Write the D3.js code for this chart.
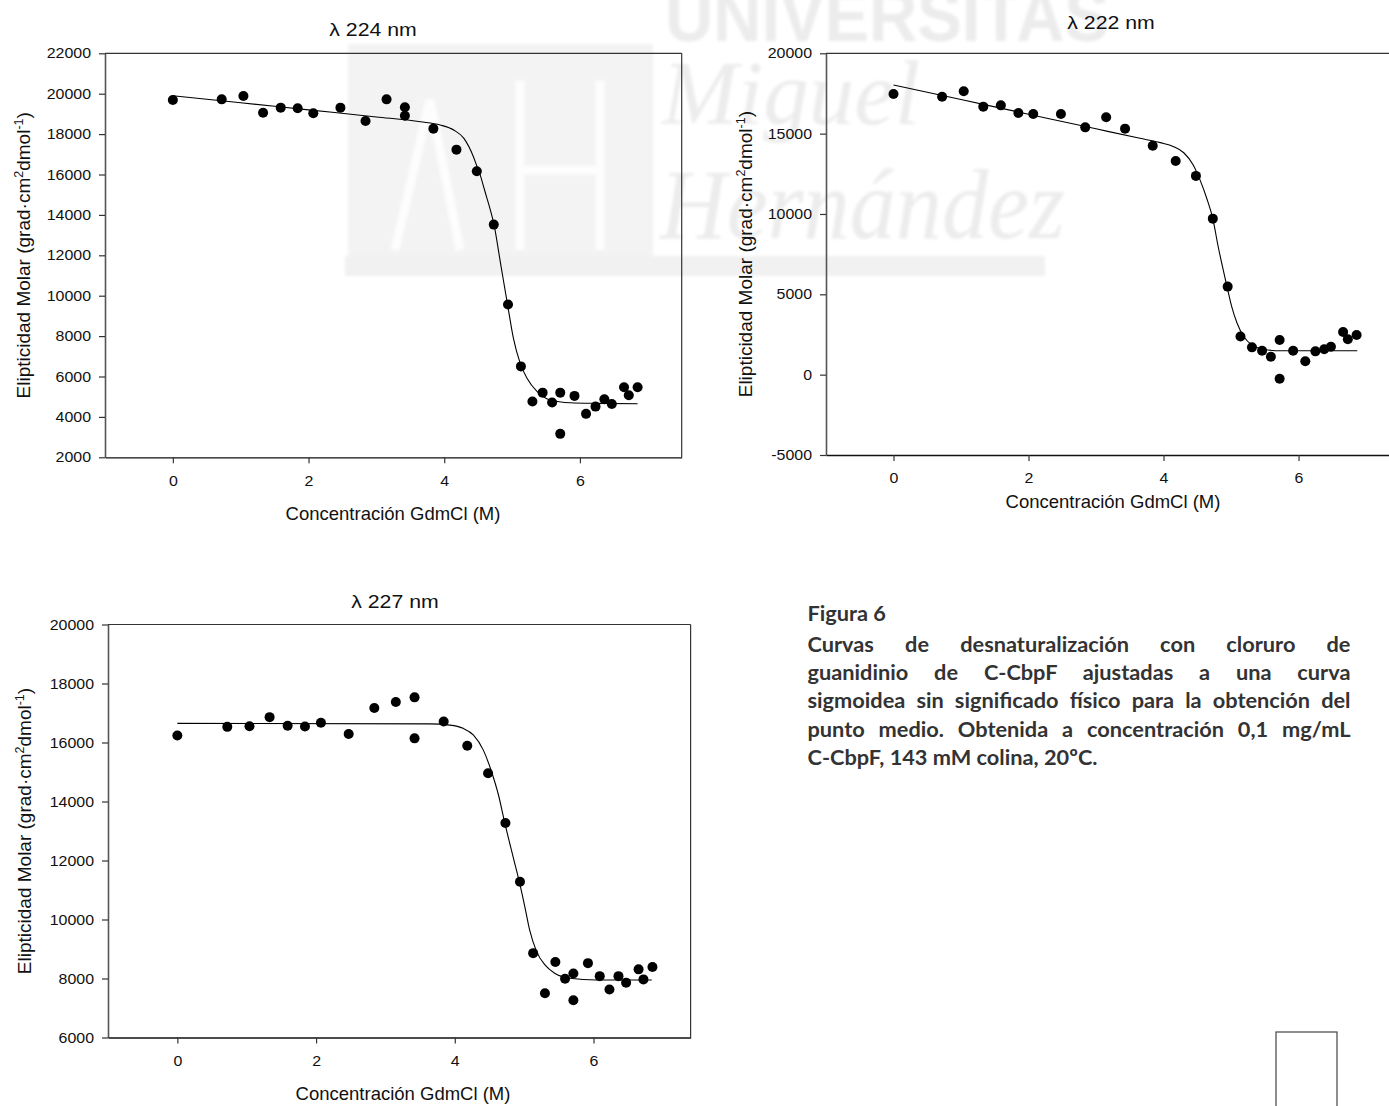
<!DOCTYPE html>
<html>
<head>
<meta charset="utf-8">
<script src="https://cdn.jsdelivr.net/npm/d3@7"></script>
<style>
  html, body { margin: 0; padding: 0; background: #fff; }
  svg { display: block; }
</style>
</head>
<body>
<svg id="fig" width="1389" height="1106"></svg>
<script>
// ---- Measured data: molar ellipticity vs GdmCl concentration ----
const conc = [0, 0.72, 1.04, 1.33, 1.59, 1.84, 2.07, 2.47, 2.84, 3.15, 3.42, 3.42, 3.84, 4.18, 4.48, 4.73, 4.94, 5.13, 5.30, 5.45, 5.59, 5.71, 5.71, 5.92, 6.09, 6.23, 6.36, 6.47, 6.65, 6.72, 6.85];
const elip224 = [19690, 19720, 19890, 19060, 19310, 19280, 19030, 19310, 18650, 19720, 19330, 18910, 18270, 17230, 16160, 13520, 9560, 6500, 4760, 5200, 4710, 5200, 3160, 5040, 4150, 4510, 4870, 4640, 5470, 5070, 5470];

const conc222 = [0, 0.72, 1.04, 1.33, 1.59, 1.85, 2.07, 2.48, 2.84, 3.15, 3.43, 3.84, 4.18, 4.48, 4.73, 4.95, 5.14, 5.31, 5.46, 5.59, 5.72, 5.72, 5.92, 6.10, 6.25, 6.38, 6.48, 6.66, 6.73, 6.86];
const elip222 = [17470, 17300, 17640, 16680, 16760, 16290, 16220, 16220, 15390, 16020, 15310, 14250, 13300, 12370, 9710, 5480, 2370, 1700, 1490, 1120, 2160, -250, 1490, 830, 1450, 1580, 1740, 2660, 2200, 2470];

const elip227 = [16240, 16530, 16550, 16860, 16570, 16540, 16670, 16290, 17170, 17370, 17530, 16140, 16710, 15890, 14960, 13270, 11280, 8860, 7500, 8560, 7990, 8170, 7260, 8520, 8080, 7630, 8080, 7860, 8310, 7970, 8390];

// ---- Fitted sigmoid curves (sampled) ----
const fit224X = [0, 1, 2, 3, 3.65, 3.94, 4.14, 4.29, 4.43, 4.48, 4.53, 4.58, 4.63, 4.68, 4.73, 4.83, 4.93, 5.02, 5.12, 5.22, 5.37, 5.56, 5.86, 6.25, 6.85];
const fit224Y = [19900, 19550, 19200, 18850, 18610, 18450, 18200, 17790, 16880, 16420, 15980, 15400, 14820, 14240, 13580, 11600, 9620, 7890, 6650, 5910, 5250, 4840, 4700, 4670, 4650];

const fit222X = [0, 1, 2, 3, 3.65, 3.95, 4.15, 4.30, 4.44, 4.54, 4.64, 4.73, 4.81, 4.89, 4.94, 5.01, 5.09, 5.19, 5.31, 5.48, 5.73, 6.87];
const fit222Y = [18030, 17120, 16210, 15300, 14710, 14440, 14190, 13810, 13050, 12120, 10980, 9710, 7960, 6410, 5480, 4230, 3200, 2360, 1850, 1580, 1490, 1490];

const fit227X = [0, 3.64, 3.93, 4.12, 4.27, 4.41, 4.53, 4.63, 4.72, 4.84, 4.93, 5.01, 5.08, 5.18, 5.30, 5.44, 5.66, 6.04, 6.84];
const fit227Y = [16650, 16630, 16590, 16480, 16250, 15750, 15010, 14220, 13280, 12130, 11280, 10430, 9640, 8910, 8460, 8180, 8010, 7950, 7950];

// ---- Tick values ----
const xTicks = [0, 2, 4, 6];
const yTicks224 = [2000, 4000, 6000, 8000, 10000, 12000, 14000, 16000, 18000, 20000, 22000];
const yTicks222 = [-5000, 0, 5000, 10000, 15000, 20000];
const yTicks227 = [6000, 8000, 10000, 12000, 14000, 16000, 18000, 20000];

// ---- Text ----
const titles = ["\u03BB 224 nm", "\u03BB 222 nm", "\u03BB 227 nm"];
const xLabel = "Concentración GdmCl (M)";
const captionLines = [
  "Figura 6",
  "Curvas de desnaturalización con cloruro de",
  "guanidinio de C-CbpF ajustadas a una curva",
  "sigmoidea sin significado físico para la obtención del",
  "punto medio. Obtenida a concentración 0,1 mg/mL",
  "C-CbpF, 143 mM colina, 20ºC."
];

const svg = d3.select("#fig");
const FONT = "'Liberation Sans', Arial, Helvetica, sans-serif";

// horizontally widen text glyphs around their anchor x
function widen(sel, sx) {
  sel.each(function () {
    const t = d3.select(this);
    const x0 = +t.attr("x") || 0;
    t.attr("transform", `translate(${x0 * (1 - sx)},0) scale(${sx},1)`);
  });
}

// ---- Faint institutional watermark behind the figure ----
(function watermark() {
  const defs = svg.append("defs");
  defs.append("filter").attr("id", "soft")
    .append("feGaussianBlur").attr("stdDeviation", 1.6);
  const w = svg.append("g").attr("filter", "url(#soft)");
  w.append("rect").attr("x", 348).attr("y", 44).attr("width", 305).attr("height", 212)
    .attr("fill", "#f3f3f3");
  const mono = w.append("g").attr("fill", "none").attr("stroke", "#fdfdfd").attr("stroke-width", 9);
  mono.append("path").attr("d", "M395,250 L430,100 L460,250");
  mono.append("path").attr("d", "M520,250 L520,80 M600,250 L600,80 M520,170 L600,170");
  w.append("rect").attr("x", 345).attr("y", 256).attr("width", 700).attr("height", 20)
    .attr("fill", "#f1f1f1");
  w.append("text").attr("x", 665).attr("y", 41)
    .attr("font-family", "'Liberation Sans Narrow', 'Liberation Sans', sans-serif")
    .attr("font-weight", "bold").attr("font-size", 72)
    .attr("textLength", 444).attr("lengthAdjust", "spacingAndGlyphs")
    .attr("fill", "#ececec").text("UNIVERSITAS");
  w.append("text").attr("x", 662).attr("y", 124)
    .attr("font-family", "'Liberation Serif', serif").attr("font-style", "italic")
    .attr("font-size", 90).attr("textLength", 258).attr("lengthAdjust", "spacingAndGlyphs")
    .attr("fill", "#ececec").text("Miguel");
  w.append("text").attr("x", 660).attr("y", 238)
    .attr("font-family", "'Liberation Serif', serif").attr("font-style", "italic")
    .attr("font-size", 100).attr("textLength", 405).attr("lengthAdjust", "spacingAndGlyphs")
    .attr("fill", "#ececec").text("Hernández");
})();

// ---- One denaturation panel ----
function panel(cfg) {
  const g = svg.append("g");
  const x = d3.scaleLinear().domain(cfg.xDomain).range([cfg.left, cfg.right]);
  const y = d3.scaleLinear().domain(cfg.yDomain).range([cfg.bottom, cfg.top]);

  // top and right frame lines
  g.append("line").attr("x1", cfg.left).attr("x2", cfg.right)
    .attr("y1", cfg.top).attr("y2", cfg.top)
    .attr("stroke", "#333").attr("stroke-width", 1.2);
  g.append("line").attr("x1", cfg.right).attr("x2", cfg.right)
    .attr("y1", cfg.top).attr("y2", cfg.bottom)
    .attr("stroke", "#333").attr("stroke-width", 1.2);

  const yAxis = g.append("g").attr("transform", `translate(${cfg.left},0)`)
    .call(d3.axisLeft(y).tickValues(cfg.yTicks).tickSize(6).tickSizeOuter(0)
      .tickPadding(8).tickFormat(d => String(d)));
  yAxis.select(".domain").attr("stroke", "#555").attr("stroke-width", 1.6);
  yAxis.selectAll(".tick line").attr("stroke", "#333").attr("stroke-width", 1.2);
  yAxis.selectAll(".tick text").attr("font-family", FONT).attr("font-size", 14.5)
    .attr("fill", "#111").call(widen, 1.1);

  const xAxis = g.append("g").attr("transform", `translate(0,${cfg.bottom})`)
    .call(d3.axisBottom(x).tickValues(xTicks).tickSize(6).tickSizeOuter(0)
      .tickPadding(12).tickFormat(d => String(d)));
  xAxis.select(".domain").attr("stroke", "#111").attr("stroke-width", 1.3);
  xAxis.selectAll(".tick line").attr("stroke", "#333").attr("stroke-width", 1.2);
  xAxis.selectAll(".tick text").attr("font-family", FONT).attr("font-size", 14.5)
    .attr("fill", "#111").call(widen, 1.1);

  // fitted curve
  g.append("path")
    .datum(d3.zip(cfg.fitX, cfg.fitY))
    .attr("fill", "none").attr("stroke", "#000").attr("stroke-width", 1.1)
    .attr("d", d3.line().x(d => x(d[0])).y(d => y(d[1])).curve(d3.curveMonotoneX));

  // measured points
  g.selectAll("circle.pt")
    .data(d3.zip(cfg.xs, cfg.ys))
    .join("circle").attr("class", "pt")
    .attr("cx", d => x(d[0])).attr("cy", d => y(d[1])).attr("r", 5)
    .attr("fill", "#000");

  // title
  g.append("text").attr("x", cfg.titleX).attr("y", cfg.titleY)
    .attr("text-anchor", "middle").attr("font-family", FONT).attr("font-size", 18.5)
    .attr("fill", "#111").text(cfg.title).call(widen, 1.15);

  // x label
  g.append("text").attr("x", cfg.xLabelX).attr("y", cfg.xLabelY)
    .attr("text-anchor", "middle").attr("font-family", FONT).attr("font-size", 18.5)
    .attr("fill", "#111").text(xLabel);

  // y label with superscripts
  const yl = g.append("text")
    .attr("transform", `translate(${cfg.yLabelX},${(cfg.top + cfg.bottom) / 2}) rotate(-90)`)
    .attr("text-anchor", "middle").attr("font-family", FONT).attr("font-size", 19)
    .attr("fill", "#111");
  yl.append("tspan").text("Elipticidad Molar (grad\u00B7cm");
  yl.append("tspan").attr("font-size", 12.5).attr("dy", -7).text("2");
  yl.append("tspan").attr("dy", 7).text("dmol");
  yl.append("tspan").attr("font-size", 12.5).attr("dy", -7).text("-1");
  yl.append("tspan").attr("dy", 7).text(")");
}

panel({
  left: 105, right: 681.7, top: 53.3, bottom: 457.3,
  xDomain: [-1, 7.5], yDomain: [2000, 22000], yTicks: yTicks224,
  xs: conc, ys: elip224, fitX: fit224X, fitY: fit224Y,
  title: titles[0], titleX: 373, titleY: 36,
  xLabelX: 393, xLabelY: 520, yLabelX: 30
});
panel({
  left: 826, right: 1399.8, top: 53.3, bottom: 455,
  xDomain: [-1, 7.5], yDomain: [-5000, 20000], yTicks: yTicks222,
  xs: conc222, ys: elip222, fitX: fit222X, fitY: fit222Y,
  title: titles[1], titleX: 1111, titleY: 29.5,
  xLabelX: 1113, xLabelY: 508, yLabelX: 752
});
panel({
  left: 108, right: 690.6, top: 624.5, bottom: 1037.5,
  xDomain: [-1, 7.4], yDomain: [6000, 20000], yTicks: yTicks227,
  xs: conc, ys: elip227, fitX: fit227X, fitY: fit227Y,
  title: titles[2], titleX: 395, titleY: 608.5,
  xLabelX: 403, xLabelY: 1100, yLabelX: 31
});

// ---- Figure caption (justified block) ----
(function caption() {
  const x0 = 807.5, width = 543;
  const baselines = [621, 651.7, 680, 708.3, 736.7, 765];
  const g = svg.append("g").attr("font-family", "Lato, 'Open Sans', sans-serif")
    .attr("font-weight", "bold").attr("fill", "#333");
  // size the font so the closing line spans its measured width
  const probe = g.append("text").attr("font-size", 100).text(captionLines[5]);
  const fs = 100 * 290 / probe.node().getComputedTextLength();
  probe.remove();
  captionLines.forEach((line, i) => {
    const t = g.append("text").attr("x", x0).attr("y", baselines[i])
      .attr("font-size", fs).text(line);
    if (i >= 1 && i <= 4) {
      const natural = t.node().getComputedTextLength();
      const gaps = line.split(" ").length - 1;
      t.attr("word-spacing", (width - natural) / gaps);
    }
  });
})();

// small frame at the lower right corner
svg.append("rect").attr("x", 1276).attr("y", 1032).attr("width", 61).attr("height", 90)
  .attr("fill", "none").attr("stroke", "#444").attr("stroke-width", 1.2);
</script>
</body>
</html>
